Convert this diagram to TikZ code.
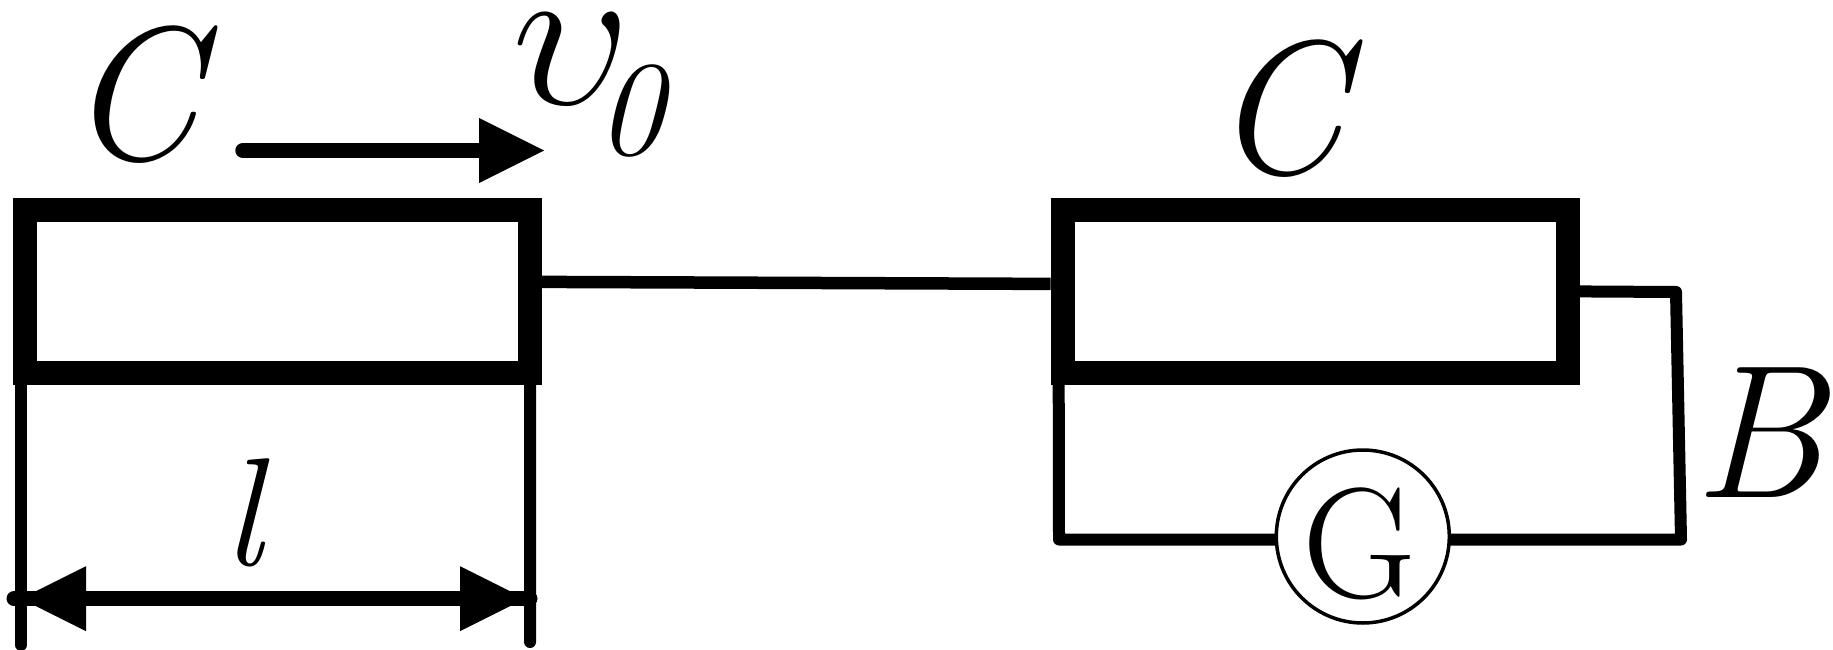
\RequirePackage{fix-cm}
\documentclass[tikz,border=0pt]{standalone}
\usepackage{fontspec}
\usetikzlibrary{arrows.meta}
\newcommand{\fs}[1]{\fontsize{#1pt}{#1pt}\selectfont}
\tikzset{
  slab/.style={draw=black,fill=white,line width=24pt,minimum width=505.2pt,minimum height=163.3pt,inner sep=0pt,rectangle},
  wire/.style={draw=black,line width=12pt,line cap=round,line join=round},
  shaft/.style={draw=black,line width=15.5pt},
  lab/.style={inner sep=0pt,outer sep=0pt,anchor=base,font=\itshape\fs{190},text=black},
  tips/.style={{Triangle[length=65pt,width=65pt,line width=0pt]}-{Triangle[length=65pt,width=65pt,line width=0pt]}}
}
\begin{document}
\begin{tikzpicture}[x=1pt,y=-1pt]
\useasboundingbox (0,0) rectangle (1833,650);
\fill[white] (0,0) rectangle (1833,650);
\node[slab] (boxL) at (277.4,291.4) {};
\node[slab] (boxR) at (1315.3,291.4) {};
% coordinates
\coordinate (cTR) at (1676,292);
\coordinate (cBR) at (1681,539.5);
\coordinate (cBL) at (1059,539.5);
\coordinate (dimLend) at (21,645);
\coordinate (dimRend) at (530,642);
\coordinate (dL) at (14,598.7);
\coordinate (dR) at (530,598.7);
\coordinate (tipL) at (21,598.7);
\coordinate (tipR) at (525,598.7);
\coordinate (vS) at (243,150.5);
\coordinate (vE) at (544,150.5);
% wires
\draw[draw=black,line width=12.5pt] ([yshift=9.5pt]boxL.east) -- ([yshift=7.5pt]boxR.west);
\draw[wire] ([xshift=-5pt]boxR.east) -- (cTR) -- (cBR) -- (cBL) -- ([xshift=8pt]boxR.south west);
\node[circle,draw=black,fill=white,line width=3.5pt,minimum size=173pt,inner sep=0pt] (G) at (1362.8,536.5) {};
\node[lab,font=\fs{157}] (Gt) at (1359,597) {G};
% dimension
\draw[draw=black,line width=12pt,line cap=round] ([xshift=8.2pt]boxL.south west) -- (dimLend);
\draw[draw=black,line width=12pt,line cap=round] ([xshift=-12pt]boxL.south east) -- (dimRend);
\draw[draw=black,line width=15pt,line cap=round] (dL) -- (dR);
\draw[shaft,tips] (tipL) -- (tipR);
% velocity arrow
\draw[shaft,line cap=round,-{Triangle[length=65pt,width=65pt,line width=0pt]}] (vS) -- (vE);
% labels
\node[lab] (C1) at (133,160) {C};
\node[lab] (C2) at (1278,173) {C};
\node[lab] (B) at (1759,497) {B};
\node[lab,font=\itshape\fs{154}] (l) at (243,565) {l};
\node[inner sep=0pt,anchor=base west,font=\itshape\fs{210}] (v) at (512,105) {$\upsilon$\hspace{-34pt}\raisebox{-50pt}{\fs{135}0}};
\end{tikzpicture}
\end{document}
